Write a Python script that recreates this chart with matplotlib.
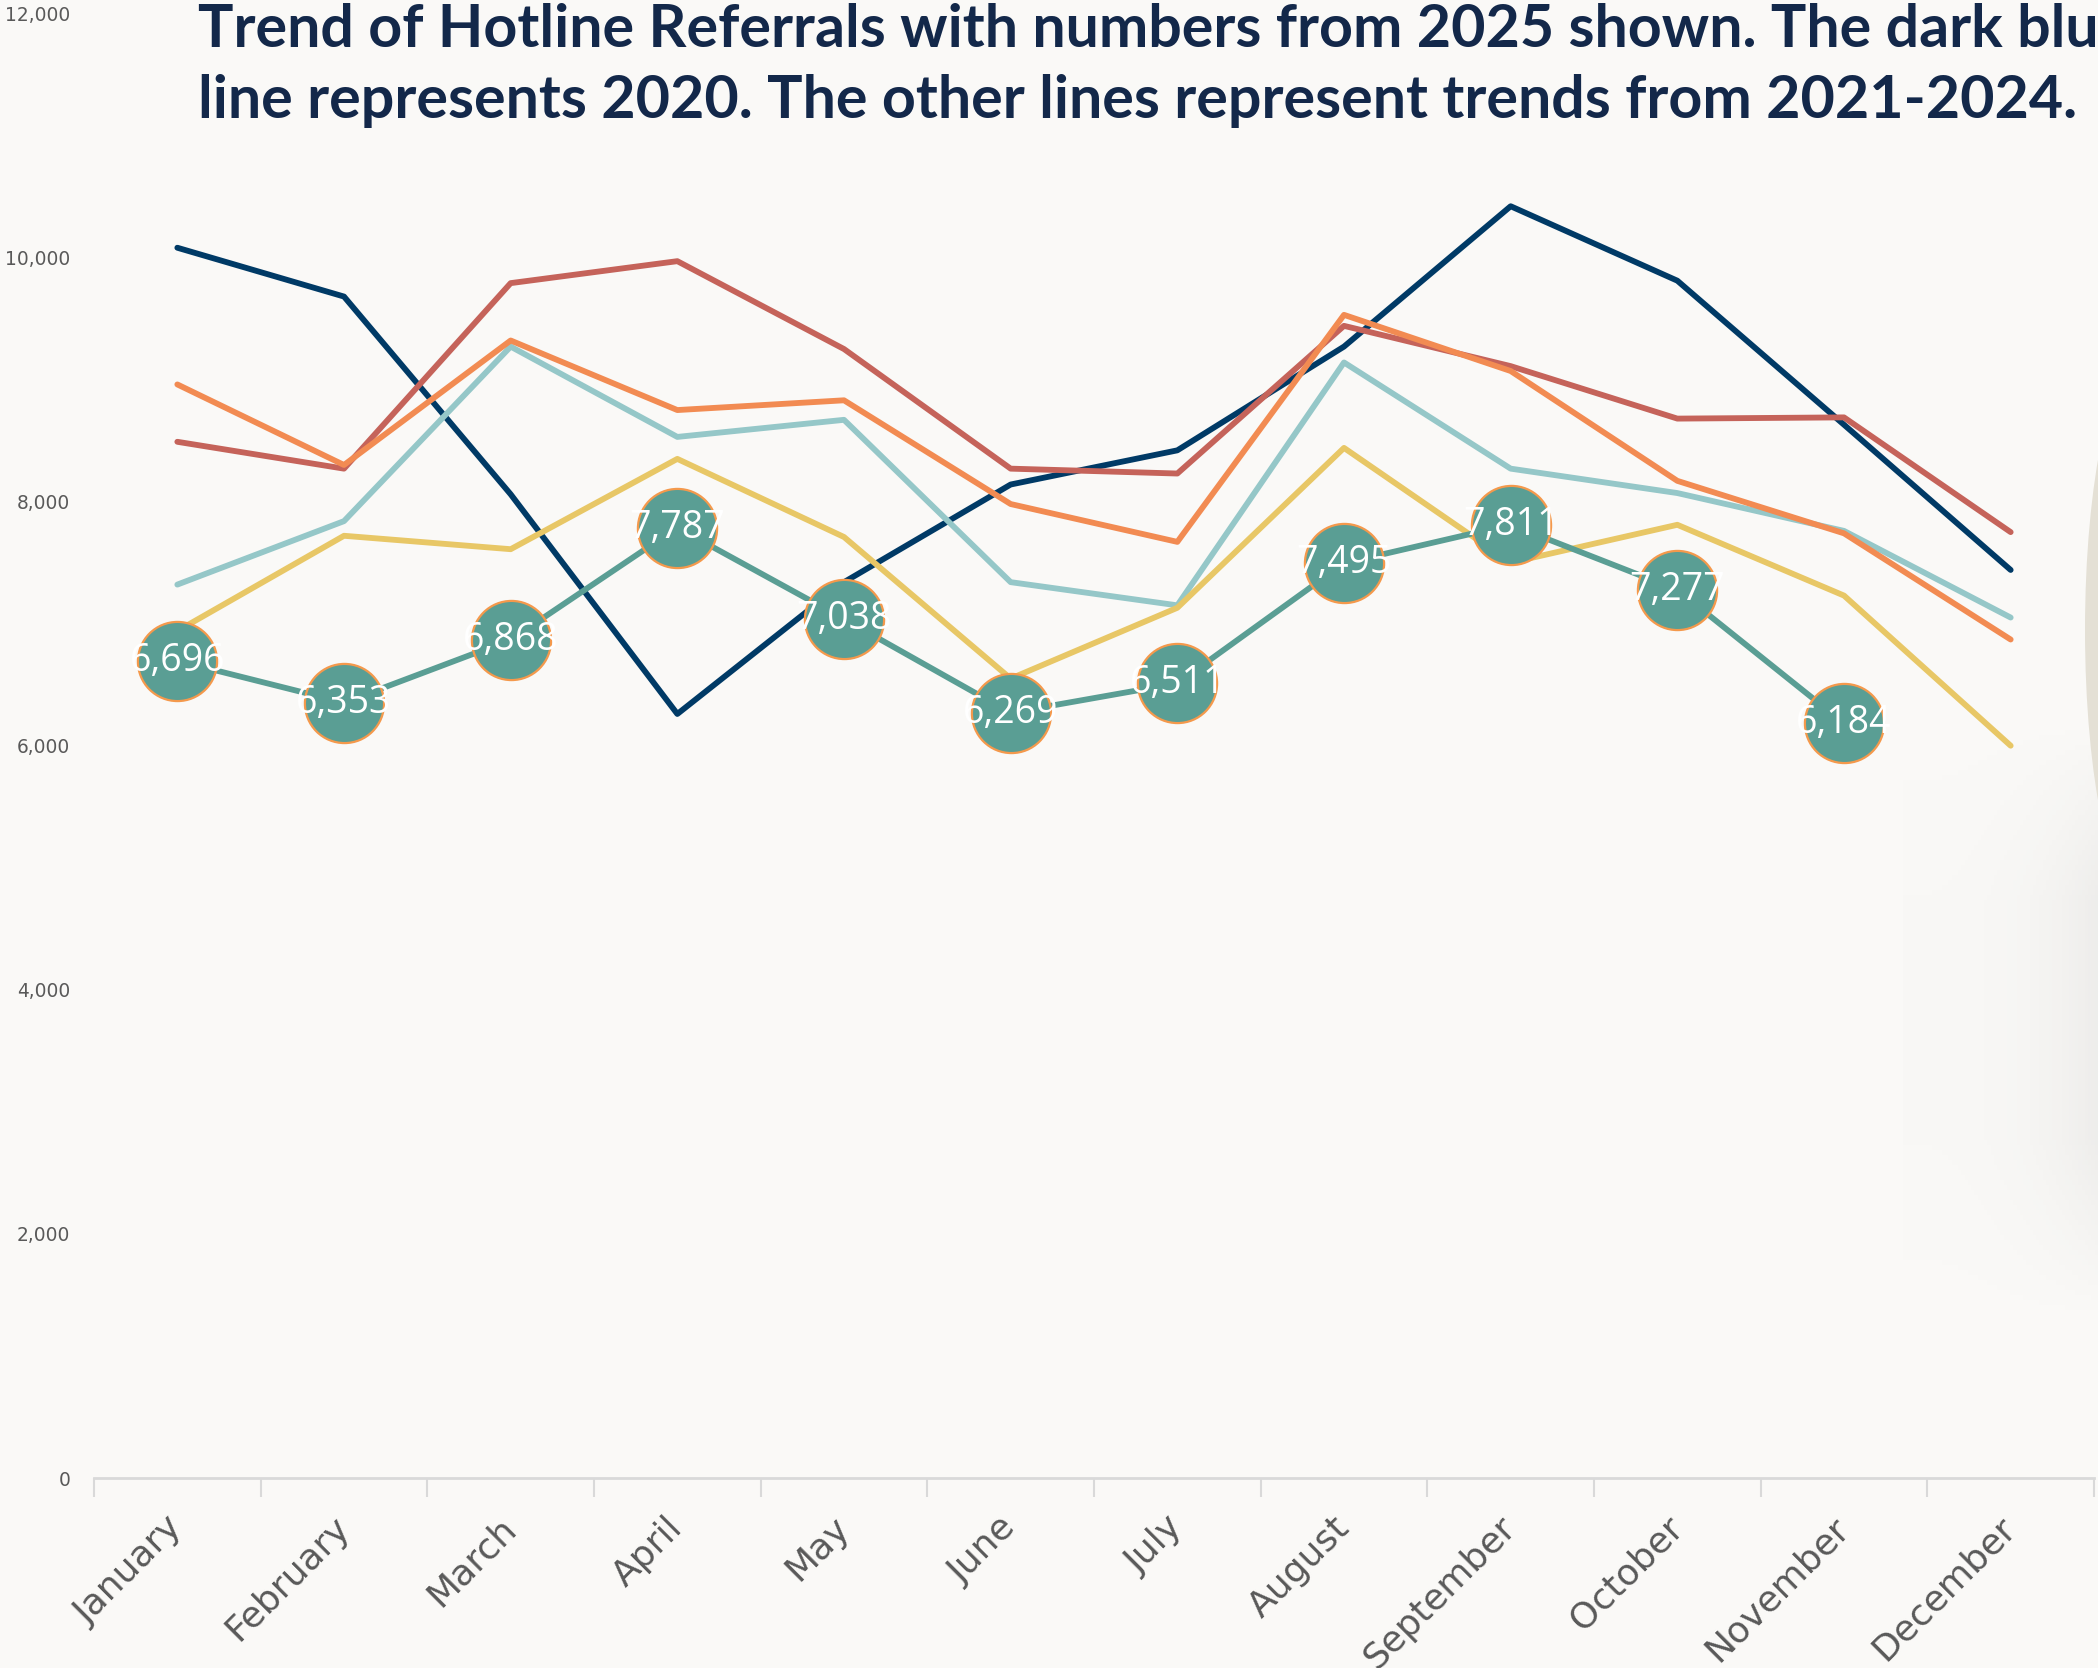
import matplotlib.pyplot as plt
import numpy as np
from matplotlib.patches import Ellipse
from matplotlib.ticker import FuncFormatter

months = ['January', 'February', 'March', 'April', 'May', 'June', 'July',
          'August', 'September', 'October', 'November', 'December']

# earlier years
y2020 = [10080, 9680, 8060, 6260, 7340, 8140, 8420, 9270, 10420, 9810, 8630, 7440]
y_red = [8490, 8270, 9790, 9970, 9250, 8270, 8230, 9440, 9110, 8680, 8690, 7750]
y_lteal = [7320, 7840, 9270, 8530, 8670, 7340, 7150, 9140, 8270, 8070, 7760, 7050]
y_orange = [8960, 8300, 9320, 8750, 8830, 7980, 7670, 9530, 9070, 8170, 7740, 6870]
y_yellow = [6940, 7720, 7610, 8350, 7710, 6550, 7130, 8440, 7500, 7810, 7230, 6000]

# 2025, labelled
y2025 = [6696, 6353, 6868, 7787, 7038, 6269, 6511, 7495, 7811, 7277, 6184]

bg = '#FAF9F7'
W, H = 2098, 1668

fig = plt.figure(figsize=(W / 100, H / 100), dpi=100, facecolor=bg)

# faint shadow bottom right
sh = fig.add_axes([1903 / W, 1 - 1320 / H, 195 / W, 600 / H])
gx = np.linspace(0, 1, 60)
gy = np.linspace(0, 1, 120)
vert = np.clip(np.minimum(gy / 0.3, (1 - gy) / 0.3), 0, 1)
alpha = (0.012 + 0.10 * gx[None, :] ** 3) * vert[:, None]
img = np.zeros((120, 60, 4))
img[..., :3] = 0.55
img[..., 3] = alpha
sh.imshow(img, aspect='auto', extent=(0, 1, 0, 1))
sh.axis('off')

# beige shape cut by the right edge
fig.add_artist(Ellipse(((2085 + 60) / W, 1 - 630 / H), 120 / W, 548 / H,
                       transform=fig.transFigure, facecolor='#E4E0D5',
                       edgecolor='none'))

ax = fig.add_axes([94 / W, 1 - 1478 / H, 2000 / W, (1478 - 13.4) / H])
ax.patch.set_alpha(0)

x = np.arange(len(months))
for vals, col in [(y2020, '#003A66'), (y_red, '#C5635A'), (y_lteal, '#95C7C8'),
                  (y_orange, '#F28B52'), (y_yellow, '#E8C766')]:
    ax.plot(x, vals, color=col, lw=4.2, solid_capstyle='round')

ax.plot(x[:len(y2025)], y2025, color='#5A9E94', lw=4.2, marker='o', ms=57,
        mfc='#5A9E94', mec='#F4994C', mew=1.6, solid_capstyle='round')
for i, v in enumerate(y2025):
    ax.text(i, v, f'{v:,}', color='white', ha='center', va='center',
            fontsize=27, family='Open Sans')

ax.set_xlim(-0.5, 11.5)
ax.set_ylim(0, 12000)
ax.set_yticks(range(0, 12001, 2000))
ax.yaxis.set_major_formatter(FuncFormatter(lambda v, p: f'{v:,.0f}'))
ax.tick_params(axis='y', length=0, pad=17, labelsize=13.4, labelcolor='#595959')

ax.set_xticks(x)
ax.set_xticklabels(months, rotation=45, ha='right', va='center',
                   rotation_mode='anchor', fontsize=26, color='#595959')
ax.tick_params(axis='x', which='major', length=0, pad=32)
ax.set_xticks(np.arange(-0.5, 12, 1), minor=True)
ax.tick_params(axis='x', which='minor', length=14, width=1.5, color='#D9D9D9')

for s in ['left', 'right', 'top']:
    ax.spines[s].set_visible(False)
ax.spines['bottom'].set_color('#D9D9D9')
ax.spines['bottom'].set_linewidth(2)

title_kw = dict(fontsize=42.6, fontweight='bold', family='Lato', color='#13284A',
                va='baseline', ha='left')
fig.text(198 / W, 1 - 47 / H,
         'Trend of Hotline Referrals with numbers from 2025 shown. The dark blue',
         **title_kw)
fig.text(198 / W, 1 - 118 / H,
         'line represents 2020. The other lines represent trends from 2021-2024.',
         **title_kw)

fig.savefig('out.png', dpi=100, facecolor=bg)
